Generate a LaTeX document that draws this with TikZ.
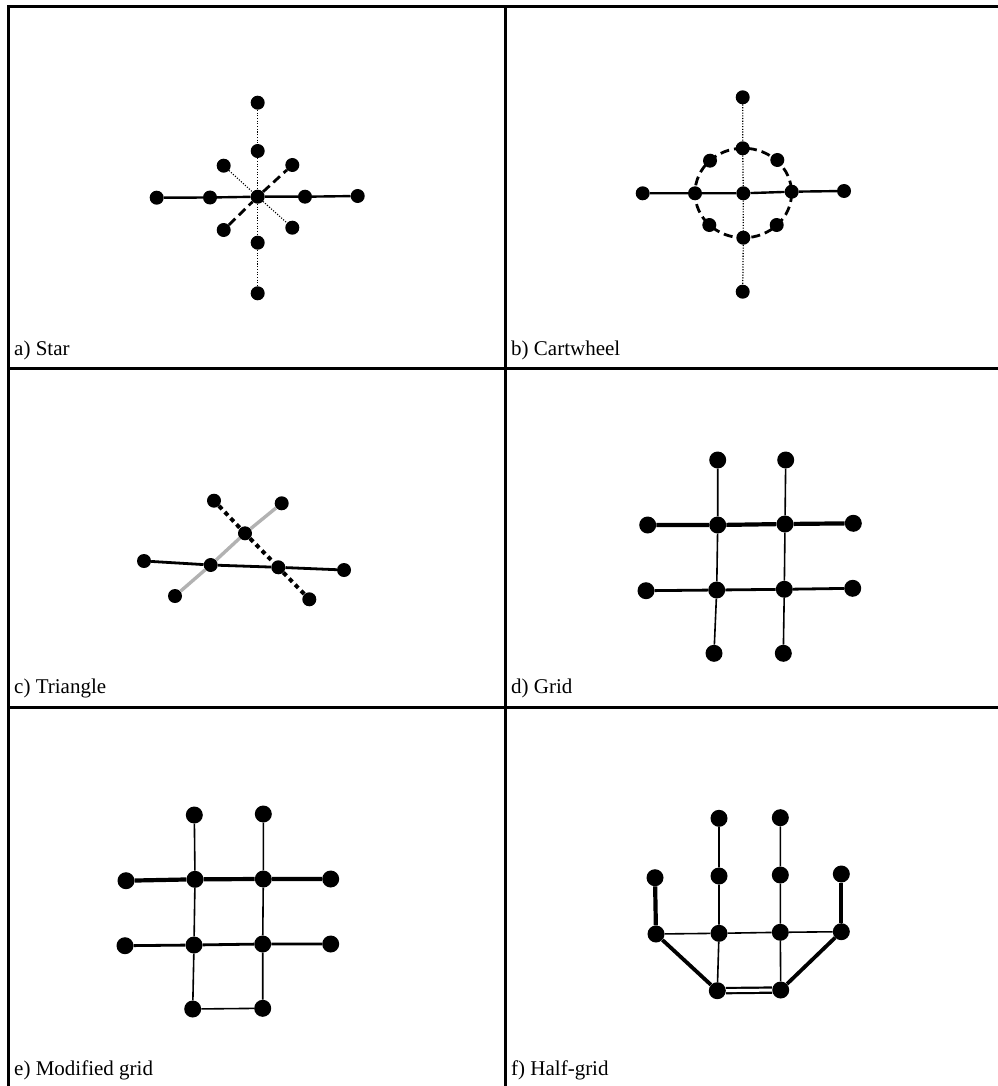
\documentclass[tikz,border=0pt]{standalone}
\usepackage{fontspec}
\setmainfont{Liberation Serif}
\begin{document}
\begin{tikzpicture}[x=1pt,y=-1pt,
  frame/.style={line width=3pt, line cap=rect},
  sdot/.style={circle, fill=black, inner sep=0pt, minimum size=14pt},
  bdot/.style={circle, fill=black, inner sep=0pt, minimum size=17pt},
  solidedge/.style={line width=2.4pt},
  dotedge/.style={line width=1.3pt, dash pattern=on 1.1pt off 1.6pt},
  dashedge/.style={line width=2.8pt, dash pattern=on 9pt off 5pt},
  sqdash/.style={line width=4pt, dash pattern=on 4.5pt off 4pt},
  grayedge/.style={line width=3.4pt, draw=gray!60},
  thickedge/.style={line width=4.2pt},
  medge/.style={line width=2.8pt},
  thinedge/.style={line width=1.6pt},
  dbl/.style={line width=2.2pt, double=white, double distance=3pt},
  lbl/.style={anchor=base west, inner sep=0pt, font=\fontsize{21}{25}\selectfont}]
\useasboundingbox (0,0) rectangle (997,1086);
% frame
\coordinate (tl) at (8,7);
\coordinate (tr) at (997,7);
\coordinate (tm) at (505,7);
\coordinate (bl) at (8,1086);
\coordinate (bm) at (505,1086);
\coordinate (h1l) at (8,368);
\coordinate (h1r) at (997,368);
\coordinate (h2l) at (8,707);
\coordinate (h2r) at (997,707);
\draw[frame] (tr) -- (tl) -- (bl);
\draw[frame] (tm) -- (bm);
\draw[frame] (h1l) -- (h1r);
\draw[frame] (h2l) -- (h2r);
% labels
\node[lbl] (la) at (14,355) {a) Star};
\node[lbl] (lb) at (511,355) {b) Cartwheel};
\node[lbl] (lc) at (14,693) {c) Triangle};
\node[lbl] (ld) at (511,693) {d) Grid};
\node[lbl] (le) at (14,1075) {e) Modified grid};
\node[lbl] (lf) at (511,1075) {f) Half-grid};

% ---------- a) Star
\node[sdot] (aT2) at (257.7,102.7) {};
\node[sdot] (aT1) at (257.7,151) {};
\node[sdot] (aNW) at (223.7,165.7) {};
\node[sdot] (aNE) at (292.3,165) {};
\node[sdot] (aL2) at (156.7,197.7) {};
\node[sdot] (aL1) at (210,197.5) {};
\node[sdot] (aC) at (257.7,196.7) {};
\node[sdot] (aR1) at (305,196.7) {};
\node[sdot] (aR2) at (357.7,196) {};
\node[sdot] (aSW) at (223.7,230) {};
\node[sdot] (aSE) at (292.3,227.7) {};
\node[sdot] (aB1) at (257.7,242.7) {};
\node[sdot] (aB2) at (257.7,293.3) {};
\draw[solidedge] (aL2) -- (aL1) -- (aC) -- (aR1) -- (aR2);
\draw[dotedge] (aT2) -- (aT1) -- (aC) -- (aB1) -- (aB2);
\draw[dotedge, line width=1.1pt] (aNW) -- (aC) -- (aSE);
\draw[dashedge] (aSW) -- (aC) -- (aNE);

% ---------- b) Cartwheel
\node[sdot] (bT2) at (742.7,97.3) {};
\node[sdot] (bT1) at (742.7,148.3) {};
\node[sdot] (bNW) at (710,160.7) {};
\node[sdot] (bNE) at (777.3,160) {};
\node[sdot] (bL2) at (642.7,193.3) {};
\node[sdot] (bL1) at (695,193.3) {};
\node[sdot] (bC) at (743.3,193.3) {};
\node[sdot] (bR1) at (791.7,191.7) {};
\node[sdot] (bR2) at (844,191) {};
\node[sdot] (bSW) at (709.3,225) {};
\node[sdot] (bSE) at (776.7,225) {};
\node[sdot] (bB1) at (743.3,237.7) {};
\node[sdot] (bB2) at (742.7,291.7) {};
\draw[solidedge] (bL2) -- (bL1) -- (bC) -- (bR1) -- (bR2);
\draw[dotedge] (bT2) -- (bT1) -- (bC) -- (bB1) -- (bB2);
\draw[dashedge] (bC.center) ++(0,-0.3) circle[x radius=48.3, y radius=44.8];

% ---------- c) Triangle
\node[sdot] (cA) at (214,500.7) {};
\node[sdot] (cB) at (281.7,503.3) {};
\node[sdot] (cM) at (245,533.3) {};
\node[sdot] (cL) at (144,561) {};
\node[sdot] (cP) at (210.7,565) {};
\node[sdot] (cQ) at (278.3,567.3) {};
\node[sdot] (cR) at (344,570) {};
\node[sdot] (cD) at (175,596) {};
\node[sdot] (cE) at (309.3,599.3) {};
\draw[solidedge, line width=2.8pt] (cL) -- (cP) -- (cQ) -- (cR);
\draw[sqdash] (cA) -- (cM) -- (cQ) -- (cE);
\draw[grayedge] (cD) -- (cP) -- (cM) -- (cB);

% ---------- d) Grid
\node[bdot] (dT1) at (717.7,460) {};
\node[bdot] (dT2) at (785.7,460) {};
\node[bdot] (d11) at (647.7,525) {};
\node[bdot] (d12) at (717.7,525) {};
\node[bdot] (d13) at (785,524) {};
\node[bdot] (d14) at (853.3,523.3) {};
\node[bdot] (d21) at (646,590.7) {};
\node[bdot] (d22) at (716.7,590) {};
\node[bdot] (d23) at (784.3,589.3) {};
\node[bdot] (d24) at (852.7,588.3) {};
\node[bdot] (dB1) at (714,653.3) {};
\node[bdot] (dB2) at (783.3,653.3) {};
\draw[thickedge] (d11) -- (d12) -- (d13) -- (d14);
\draw[medge] (d21) -- (d22) -- (d23) -- (d24);
\draw[thinedge] (dT1) -- (d12) -- (d22) -- (dB1);
\draw[thinedge] (dT2) -- (d13) -- (d23) -- (dB2);

% ---------- e) Modified grid
\node[bdot] (eT1) at (194.3,815) {};
\node[bdot] (eT2) at (263.3,814) {};
\node[bdot] (e11) at (126,880.7) {};
\node[bdot] (e12) at (195,879.3) {};
\node[bdot] (e13) at (263.3,879) {};
\node[bdot] (e14) at (330.7,879) {};
\node[bdot] (e21) at (125,945.7) {};
\node[bdot] (e22) at (194,945) {};
\node[bdot] (e23) at (262.7,944) {};
\node[bdot] (e24) at (330.7,944) {};
\node[bdot] (eB1) at (192.7,1009) {};
\node[bdot] (eB2) at (262.7,1008.3) {};
\draw[thickedge] (e11) -- (e12) -- (e13) -- (e14);
\draw[medge] (e21) -- (e22) -- (e23) -- (e24);
\draw[thinedge] (eT1) -- (e12) -- (e22) -- (eB1);
\draw[thinedge] (eT2) -- (e13) -- (e23) -- (eB2);
\draw[thinedge] (eB1) -- (eB2);

% ---------- f) Half-grid
\node[bdot] (fT1) at (719,818.3) {};
\node[bdot] (fT2) at (780.3,817.7) {};
\node[bdot] (f11) at (655,877.7) {};
\node[bdot] (f12) at (719,876) {};
\node[bdot] (f13) at (780.3,875) {};
\node[bdot] (f14) at (841.3,874) {};
\node[bdot] (f21) at (656,934) {};
\node[bdot] (f22) at (719,933.3) {};
\node[bdot] (f23) at (780.3,932.3) {};
\node[bdot] (f24) at (841.3,931.7) {};
\node[bdot] (fB1) at (717.3,990.7) {};
\node[bdot] (fB2) at (780.7,990) {};
\draw[thickedge] (f11) -- (f21);
\draw[thickedge] (f14) -- (f24);
\draw[thinedge] (fT1) -- (f12) -- (f22) -- (fB1);
\draw[thinedge] (fT2) -- (f13) -- (f23) -- (fB2);
\draw[thinedge] (f21) -- (f22) -- (f23) -- (f24);
\draw[thickedge, line width=3.8pt] (f21) -- (fB1);
\draw[thickedge, line width=3.8pt] (f24) -- (fB2);
\draw[dbl] (fB1) -- (fB2);
\end{tikzpicture}
\end{document}
